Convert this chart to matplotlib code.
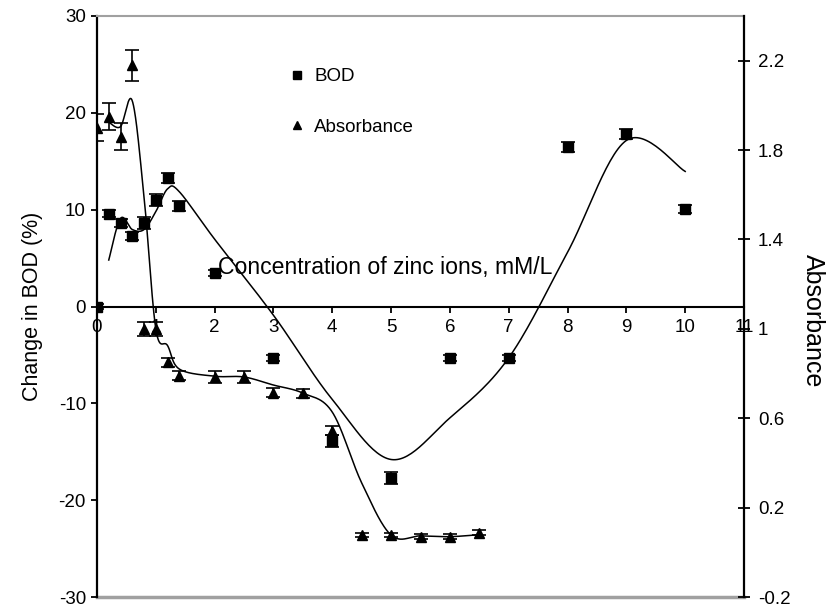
import numpy as np
import matplotlib
matplotlib.use('Agg')
import matplotlib.pyplot as plt
from matplotlib.lines import Line2D

plt.rcParams['font.family'] = ['Liberation Sans', 'DejaVu Sans']
plt.rcParams['axes.unicode_minus'] = False

# zinc concentration (mM/L) vs change in BOD (%)
x_bod = [0, 0.2, 0.4, 0.6, 0.8, 1.0, 1.2, 1.4, 2, 3, 4, 5, 6, 7, 8, 9, 10]
bod = [0, 9.6, 8.6, 7.3, 8.6, 11.0, 13.3, 10.4, 3.5, -5.3, -13.9, -17.7,
       -5.3, -5.3, 16.5, 17.8, 10.1]
bod_err = [0.3, 0.4, 0.4, 0.4, 0.6, 0.6, 0.5, 0.5, 0.3, 0.3, 0.6, 0.6,
           0.3, 0.3, 0.5, 0.5, 0.4]

# zinc concentration (mM/L) vs absorbance
x_abs = [0, 0.2, 0.4, 0.6, 0.8, 1.0, 1.2, 1.4, 2, 2.5, 3, 3.5, 4, 4.5, 5,
         5.5, 6, 6.5]
absorb = [1.90, 1.95, 1.86, 2.18, 1.00, 1.00, 0.85, 0.79, 0.786, 0.783,
          0.714, 0.711, 0.544, 0.077, 0.077, 0.070, 0.070, 0.088]
abs_err = [0.06, 0.06, 0.06, 0.07, 0.03, 0.03, 0.02, 0.02, 0.027, 0.027,
           0.02, 0.02, 0.02, 0.01, 0.01, 0.01, 0.01, 0.01]

x_ticks = list(range(0, 12))
bod_ticks = [-30, -20, -10, 0, 10, 20, 30]
abs_ticks = [-0.2, 0.2, 0.6, 1, 1.4, 1.8, 2.2]


def moving_avg(xs, ys):
    # 2-period moving average trendline
    ys = np.asarray(ys, float)
    return np.asarray(xs[1:], float), (ys[1:] + ys[:-1]) / 2


def smooth(xs, ys, n=30):
    # Catmull-Rom style bezier through the points
    pts = np.column_stack([xs, ys])
    m = len(pts)
    t = np.linspace(0, 1, n)[:, None]
    out = []
    for i in range(m - 1):
        p0 = pts[max(i - 1, 0)]
        p1 = pts[i]
        p2 = pts[i + 1]
        p3 = pts[min(i + 2, m - 1)]
        c1 = p1 + (p2 - p0) / 6
        c2 = p2 - (p3 - p1) / 6
        seg = ((1 - t) ** 3 * p1 + 3 * (1 - t) ** 2 * t * c1
               + 3 * (1 - t) * t ** 2 * c2 + t ** 3 * p2)
        out.append(seg if i == 0 else seg[1:])
    s = np.vstack(out)
    return s[:, 0], s[:, 1]


fig = plt.figure(figsize=(8.31, 6.12), dpi=100)
ax = fig.add_axes([97 / 831, 15 / 612, 647 / 831, 581 / 612])
ax2 = ax.twinx()

# BOD on the left axis
ax.errorbar(x_bod, bod, yerr=bod_err, fmt='s', color='black', ms=6.5,
            elinewidth=1.2, capsize=5, capthick=1.2, zorder=3)
mx, my = moving_avg(x_bod, bod)
sx, sy = smooth(mx, my)
ax.plot(sx, sy, color='black', lw=1.1, zorder=2)

# absorbance on the right axis
ax2.errorbar(x_abs, absorb, yerr=abs_err, fmt='^', color='black', ms=7.5,
             elinewidth=1.2, capsize=5, capthick=1.2, zorder=3)
mx, my = moving_avg(x_abs, absorb)
sx, sy = smooth(mx, my)
ax2.plot(sx, sy, color='black', lw=1.1, zorder=2)

ax.set_xlim(0, 11)
ax.set_ylim(-30, 30)
ax2.set_ylim(-0.2, 2.4)

ax.set_xticks(x_ticks)
ax.set_xticklabels([str(v) for v in x_ticks])
ax.set_yticks(bod_ticks)
ax2.set_yticks(abs_ticks)
ax2.set_yticklabels(['-0.2', '0.2', '0.6', '1', '1.4', '1.8', '2.2'])

ax.spines['bottom'].set_position(('data', 0))
ax.spines['bottom'].set_linewidth(1.5)
ax.spines['left'].set_linewidth(1.6)
ax.spines['top'].set_color('#a0a0a0')
ax.spines['top'].set_linewidth(1.5)
ax.spines['right'].set_visible(False)
ax.axhline(-30, color='#a0a0a0', lw=2.5, clip_on=False, zorder=1)
for s in ['top', 'bottom', 'left']:
    ax2.spines[s].set_visible(False)
ax2.spines['right'].set_linewidth(1.6)

ax.tick_params(axis='x', direction='out', length=4, width=1.3, pad=5,
               labelsize=13.5)
ax.tick_params(axis='y', direction='out', length=4, width=1.3, pad=4,
               labelsize=13.5)
ax2.tick_params(axis='y', direction='inout', length=8, width=1.3, pad=6,
                labelsize=13.5)

ax.set_ylabel('Change in BOD (%)', fontsize=15.5, labelpad=11)
ax2.set_ylabel('Absorbance', fontsize=18, rotation=270, va='center')
ax2.yaxis.set_label_coords(1.106, 0.475)
ax.set_xlabel('Concentration of zinc ions, mM/L', fontsize=16.6,
              va='center')
ax.xaxis.set_label_coords(0.446, 0.567)

handles = [
    Line2D([], [], ls='none', marker='s', color='black', ms=5.5),
    Line2D([], [], ls='none', marker='^', color='black', ms=6),
]
ax2.legend(handles, ['BOD', 'Absorbance'], loc='upper left',
           bbox_to_anchor=(0.2836, 0.926), frameon=False, fontsize=13.5,
           borderpad=0, handlelength=0.8, handletextpad=0.5,
           labelspacing=1.76)

fig.savefig('out.png', dpi=100)
